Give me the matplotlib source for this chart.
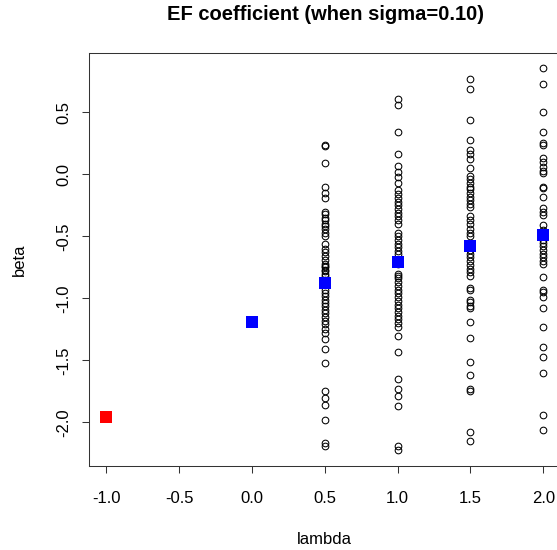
import matplotlib.pyplot as plt

# lambda values of the columns and beta values
lam_cols = [0.5, 1.0, 1.5, 2.0]
beta_05 = [0.24, 0.23, 0.09, -0.10, -0.15, -0.19, -0.30, -0.32, -0.35, -0.37, -0.40,
           -0.42, -0.44, -0.47, -0.50, -0.56, -0.60, -0.63, -0.66, -0.69, -0.72, -0.74,
           -0.75, -0.77, -0.78, -0.80, -0.82, -0.85, -0.88, -0.93, -0.96, -0.98, -1.01,
           -1.04, -1.06, -1.09, -1.12, -1.15, -1.18, -1.21, -1.25, -1.28, -1.33, -1.41,
           -1.52, -1.75, -1.80, -1.86, -1.98, -2.17, -2.19]
beta_10 = [0.61, 0.56, 0.34, 0.16, 0.07, 0.02, -0.02, -0.07, -0.13, -0.16, -0.19,
           -0.22, -0.25, -0.28, -0.31, -0.34, -0.37, -0.40, -0.47, -0.50, -0.53, -0.56,
           -0.59, -0.62, -0.64, -0.69, -0.72, -0.80, -0.82, -0.84, -0.87, -0.90, -0.93,
           -0.96, -0.99, -1.02, -1.05, -1.08, -1.11, -1.14, -1.17, -1.20, -1.23, -1.30,
           -1.43, -1.65, -1.73, -1.79, -1.87, -2.19, -2.22]
beta_15 = [0.77, 0.69, 0.44, 0.28, 0.20, 0.16, 0.12, 0.05, -0.01, -0.04, -0.07,
           -0.10, -0.12, -0.15, -0.18, -0.21, -0.24, -0.26, -0.34, -0.37, -0.40, -0.44,
           -0.47, -0.50, -0.57, -0.61, -0.64, -0.67, -0.70, -0.73, -0.76, -0.79, -0.82,
           -0.92, -0.93, -1.01, -1.03, -1.06, -1.08, -1.19, -1.32, -1.51, -1.62, -1.73,
           -1.75, -2.08, -2.15]
beta_20 = [0.86, 0.73, 0.50, 0.34, 0.25, 0.24, 0.13, 0.10, 0.06, 0.03, 0.01,
           -0.10, -0.11, -0.18, -0.27, -0.30, -0.33, -0.41, -0.45, -0.53, -0.55, -0.58,
           -0.61, -0.64, -0.67, -0.70, -0.72, -0.83, -0.93, -0.95, -0.99, -1.08, -1.23,
           -1.39, -1.47, -1.60, -1.94, -2.06]

# means (blue) and the single red point
lam_mean = [0.0, 0.5, 1.0, 1.5, 2.0]
beta_mean = [-1.19, -0.874, -0.705, -0.578, -0.49]
lam_red = [-1.0]
beta_red = [-1.955]

plt.rcParams['font.family'] = ['Liberation Sans', 'DejaVu Sans']

fig = plt.figure(figsize=(5.57, 5.5), dpi=100)
ax = fig.add_axes([89 / 557, 84 / 550, 471.7 / 557, 412.7 / 550])

for lam, vals in zip(lam_cols, [beta_05, beta_10, beta_15, beta_20]):
    ax.plot([lam] * len(vals), vals, linestyle='none', marker='o', markersize=4.8,
            markerfacecolor='none', markeredgecolor='black', markeredgewidth=0.75)

ax.plot(lam_mean, beta_mean, linestyle='none', marker='s', markersize=8.5,
        color='blue', markeredgewidth=0)
ax.plot(lam_red, beta_red, linestyle='none', marker='s', markersize=8.5,
        color='red', markeredgewidth=0)

ax.set_xlim(-1.12, 2.12)
ax.set_ylim(-2.352, 0.976)
ax.set_xticks([-1.0, -0.5, 0.0, 0.5, 1.0, 1.5, 2.0])
ax.set_yticks([-2.0, -1.5, -1.0, -0.5, 0.0, 0.5])
ax.set_xticklabels(['-1.0', '-0.5', '0.0', '0.5', '1.0', '1.5', '2.0'])
ax.set_yticklabels(['-2.0', '-1.5', '-1.0', '-0.5', '0.0', '0.5'],
                   rotation=90, va='center')
ax.tick_params(axis='both', direction='out', length=5, width=0.75,
               labelsize=12, color='#333333')
ax.tick_params(axis='x', pad=13)
ax.tick_params(axis='y', pad=8)
for s in ax.spines.values():
    s.set_linewidth(0.75)
    s.set_color('#333333')

ax.set_xlabel('lambda', fontsize=12, labelpad=19)
ax.set_ylabel('beta', fontsize=12, labelpad=21)
fig.text(325 / 557, 1 - 15 / 550, 'EF coefficient (when sigma=0.10)',
         ha='center', va='center', fontsize=14.5, fontweight='bold')

fig.savefig('out.png', dpi=100)
